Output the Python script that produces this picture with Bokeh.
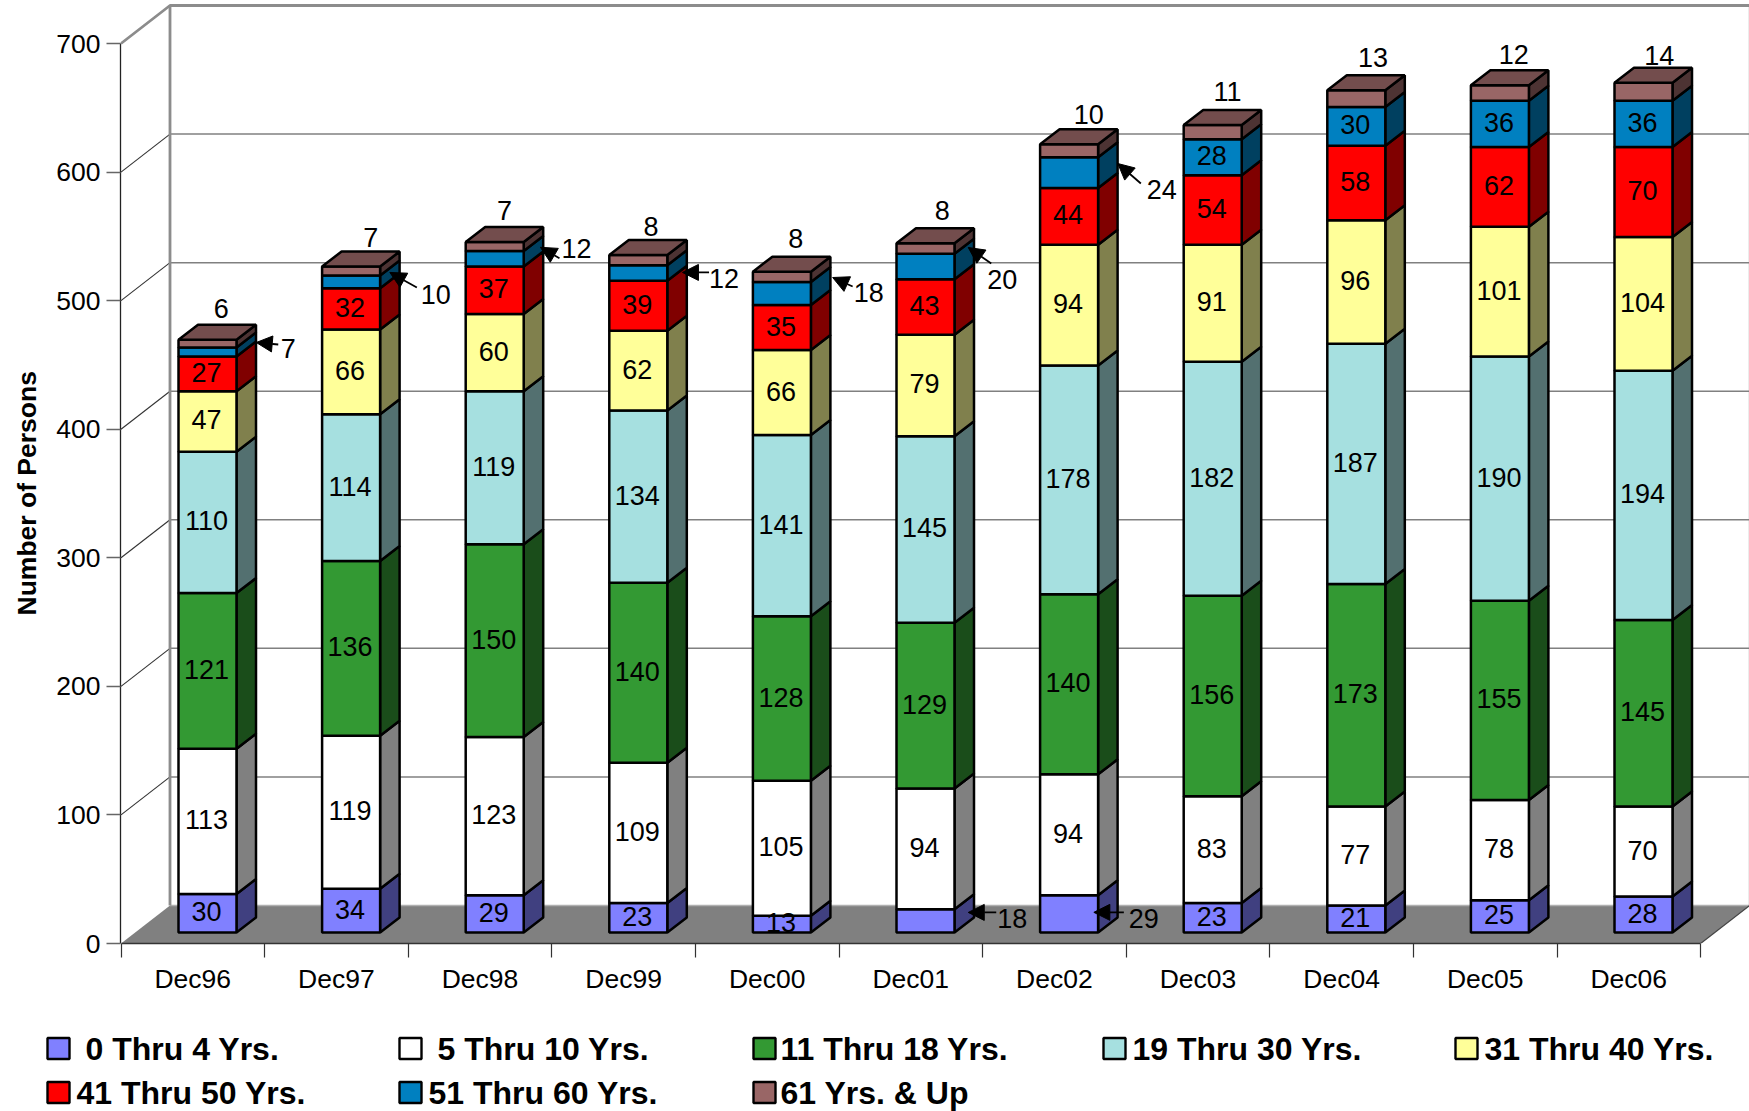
import numpy as np
from bokeh.plotting import figure
from bokeh.models import Range1d, FixedTicker, Arrow, NormalHead, ColumnDataSource, Column, Title
from bokeh.core.properties import value
from bokeh.embed import file_html
from bokeh.resources import INLINE

# ---------- data ----------
categories = ["Dec96", "Dec97", "Dec98", "Dec99", "Dec00", "Dec01", "Dec02", "Dec03", "Dec04", "Dec05", "Dec06"]
series_names = ["0 Thru 4 Yrs.", "5 Thru 10 Yrs.", "11 Thru 18 Yrs.", "19 Thru 30 Yrs.",
                "31 Thru 40 Yrs.", "41 Thru 50 Yrs.", "51 Thru 60 Yrs.", "61 Yrs. & Up"]
age_0_4 = [30, 34, 29, 23, 13, 18, 29, 23, 21, 25, 28]
age_5_10 = [113, 119, 123, 109, 105, 94, 94, 83, 77, 78, 70]
age_11_18 = [121, 136, 150, 140, 128, 129, 140, 156, 173, 155, 145]
age_19_30 = [110, 114, 119, 134, 141, 145, 178, 182, 187, 190, 194]
age_31_40 = [47, 66, 60, 62, 66, 79, 94, 91, 96, 101, 104]
age_41_50 = [27, 32, 37, 39, 35, 43, 44, 54, 58, 62, 70]
age_51_60 = [7, 10, 12, 12, 18, 20, 24, 28, 30, 36, 36]
age_61_up = [6, 7, 7, 8, 8, 8, 10, 11, 13, 12, 14]
y_ticks = [0, 100, 200, 300, 400, 500, 600, 700]

# ---------- styles ----------
front_colors = ["#8080FF", "#FFFFFF", "#339933", "#A6E0E0", "#FFFF99", "#FF0000", "#0080C0", "#996666"]
side_colors = ["#404080", "#808080", "#1A4D1A", "#537070", "#80804D", "#800000", "#004060", "#4D3333"]
top_color = "#734D4D"
FONT = "Liberation Sans"
LABEL_PX = "27px"

# geometry (pixels of the page)
X0, Y0 = 120.5, 943.0      # origin of the axes
SLOT = 143.6               # width of a category
PPU = 900 / 700            # pixels per person
WALL_DX, WALL_DY = 49.0, 38.0
BAR_LEFT, BAR_W = 57.5, 58.0
BAR_BASE = 11.0
BAR_DX, BAR_DY = 19.5, 15.0
FIG_W, FIG_H, BOTTOM = 1749, 1025, 82
LEFT = 120

xu = lambda px: px / SLOT
yu = lambda px: px / PPU

wall_dx, wall_dy = xu(WALL_DX), yu(WALL_DY)
bar_l, bar_w = xu(BAR_LEFT), xu(BAR_W)
base = yu(BAR_BASE)
bdx, bdy = xu(BAR_DX), yu(BAR_DY)

x_start = xu(LEFT - X0)
p = figure(width=FIG_W, height=FIG_H, output_backend="svg", toolbar_location=None,
           x_range=Range1d(x_start, x_start + xu(FIG_W - LEFT)),
           y_range=Range1d(0, yu(FIG_H - BOTTOM)),
           min_border_left=LEFT, min_border_right=0, min_border_top=0, min_border_bottom=BOTTOM,
           outline_line_color=None, background_fill_color="white", border_fill_color="white")
p.grid.visible = False

n_cat = len(categories)
top_val = y_ticks[-1]

# axes
xa = p.xaxis[0]
xa.ticker = FixedTicker(ticks=[i + 0.5 for i in range(n_cat)], minor_ticks=list(range(n_cat + 1)))
xa.major_label_overrides = {i + 0.5: c for i, c in enumerate(categories)}
xa.bounds = (0, n_cat)
xa.major_tick_out = 0
xa.major_tick_in = 0
xa.minor_tick_out = 14
xa.minor_tick_in = 0
xa.minor_tick_line_color = "#333333"
xa.minor_tick_line_width = 1.2
xa.axis_line_color = "#333333"
xa.axis_line_width = 1.5
xa.major_label_standoff = 6
xa.major_label_text_font = FONT
xa.major_label_text_font_size = "26.5px"
xa.major_label_text_color = "black"

ya = p.yaxis[0]
ya.ticker = FixedTicker(ticks=y_ticks)
ya.bounds = (0, top_val)
ya.major_tick_out = 14
ya.major_tick_in = 0
ya.minor_tick_line_color = None
ya.major_tick_line_color = "#666666"
ya.major_tick_line_width = 1.5
ya.axis_line_color = "#222222"
ya.axis_line_width = 1.3
ya.major_label_standoff = 6
ya.major_label_text_font = FONT
ya.major_label_text_font_size = "26.5px"
ya.major_label_text_color = "black"

# axis title, centred on the axis rather than on the taller frame
p.add_layout(Title(text="Number of Persons", align="left", offset=328, standoff=20, vertical_align="top",
                   text_font=FONT, text_font_size="26.5px", text_font_style="bold",
                   text_color="black"), "left")

# floor
p.patch([0, n_cat, n_cat + wall_dx, wall_dx], [0, 0, wall_dy, wall_dy],
        fill_color="#808080", line_color=None)
p.line([wall_dx, n_cat + wall_dx], [wall_dy, wall_dy], line_color="#B0B0B0", line_width=1.5)
p.line([n_cat, n_cat + wall_dx], [0, wall_dy], line_color="#444444", line_width=1.2)

# grid on side and back walls
grid_vals = np.array(y_ticks[1:-1], dtype=float)
p.segment(0, grid_vals, wall_dx, grid_vals + wall_dy, line_color="#333333", line_width=1.1)
p.segment(wall_dx, grid_vals + wall_dy, n_cat + wall_dx, grid_vals + wall_dy,
          line_color="#808080", line_width=1.5)
p.line([0, wall_dx, n_cat + wall_dx], [top_val, top_val + wall_dy, top_val + wall_dy],
       line_color="#8C8C8C", line_width=2.8)
p.line([wall_dx, wall_dx], [wall_dy, top_val + wall_dy], line_color="#8C8C8C", line_width=2.8)
p.line([n_cat + wall_dx, n_cat + wall_dx], [wall_dy, top_val + wall_dy], line_color="#808080", line_width=1.5)

# stacked 3-D bars
table = np.array([age_0_4, age_5_10, age_11_18, age_19_30, age_31_40, age_41_50, age_51_60, age_61_up], dtype=float)
cum = np.vstack([np.zeros(n_cat), np.cumsum(table, axis=0)])
lefts = np.arange(n_cat) + bar_l
rights = lefts + bar_w
EDGE = 2.5

for s in range(table.shape[0]):
    bottoms = base + cum[s]
    tops = base + cum[s + 1]
    xs = [[r, r + bdx, r + bdx, r] for r in rights]
    ys = [[b, b + bdy, t + bdy, t] for b, t in zip(bottoms, tops)]
    p.patches(xs, ys, fill_color=side_colors[s], line_color="black", line_width=EDGE)
    p.quad(left=lefts, right=rights, bottom=bottoms, top=tops,
           fill_color=front_colors[s], line_color="black", line_width=EDGE)

tops = base + cum[-1]
p.patches([[l, r, r + bdx, l + bdx] for l, r in zip(lefts, rights)],
          [[t, t, t + bdy, t + bdy] for t in tops],
          fill_color=top_color, line_color="black", line_width=EDGE)

# callouts: bar, series, tip offset, tail offset, text offset (pixels from the segment's side face)
callouts = [
    (0, 6, (10, -2), (32, 0), (42, 4)),
    (1, 6, (0, -2), (27, 13), (46, 20)),
    (2, 6, (7, -4), (26, 7), (43, -3)),
    (3, 6, (5.4, 7), (32, 7), (47, 13)),
    (4, 6, (12, -8.5), (32, 0.5), (48, 6.5)),
    (5, 6, (4, -11.5), (27, 4.5), (38, 20.5)),
    (6, 6, (10, -1.6), (33, 18.4), (54, 24.4)),
    (5, 0, (4, -1), (32, -1), (48, 5)),
    (6, 0, (-14, 6), (16, 6), (36, 12)),
]
called = {(c[0], c[1]) for c in callouts}

# inside labels
lx, ly, lt = [], [], []
for s in range(table.shape[0] - 1):
    for i in range(n_cat):
        if (i, s) in called:
            continue
        lx.append(lefts[i] + bar_w / 2 - xu(1))
        ly.append(base + cum[s, i] + table[s, i] / 2 + yu(1.5))
        lt.append(str(int(table[s, i])))
p.text(lx, ly, text=lt, text_align="center", text_baseline="middle",
       text_font=value(FONT), text_font_size=value(LABEL_PX), text_color="black")

# labels above the bars (top series)
top_dx = [4, 10, 0, 3, 4, 7, 10, 5, 7, 4, 6]
top_dy = [-16, -14.5, -17, -13, -18.5, -18, -15, -19, -18, -16, -12]
tsrc = ColumnDataSource(dict(
    x=lefts + (bar_w + bdx) / 2, y=tops + bdy,
    t=[str(int(v)) for v in table[-1]],
    xo=np.array(top_dx, dtype=float), yo=np.array(top_dy, dtype=float)))
p.text("x", "y", text="t", x_offset="xo", y_offset="yo", source=tsrc, text_align="center",
       text_baseline="middle", text_font=value(FONT), text_font_size=value(LABEL_PX), text_color="black")

# arrows and their labels
cx, cy, ct = [], [], []
for i, s, tip, tail, txt in callouts:
    ax = rights[i] + bdx / 2
    ay = base + cum[s, i] + table[s, i] / 2 + bdy / 2
    p.add_layout(Arrow(end=NormalHead(size=16, fill_color="black", line_color="black", line_width=1),
                       x_start=ax + xu(tail[0]), y_start=ay - yu(tail[1]),
                       x_end=ax + xu(tip[0]), y_end=ay - yu(tip[1]),
                       line_color="black", line_width=1.8))
    cx.append(ax + xu(txt[0]))
    cy.append(ay - yu(txt[1]))
    ct.append(str(int(table[s, i])))
p.text(cx, cy, text=ct, text_align="center", text_baseline="middle",
       text_font=value(FONT), text_font_size=value(LABEL_PX), text_color="black")

# legend (own panel under the chart)
leg = figure(width=FIG_W, height=1111 - FIG_H, output_backend="svg", toolbar_location=None,
             x_range=Range1d(0, FIG_W), y_range=Range1d(1111, FIG_H),
             x_axis_location=None, y_axis_location=None,
             min_border=0, outline_line_color=None)
leg.grid.visible = False
swatch_x = [47, 399, 753, 1103, 1455, 47, 399, 753]
text_x = [85, 437, 780, 1132, 1484, 76, 428, 780]
row_y = [1048, 1048, 1048, 1048, 1048, 1092, 1092, 1092]
sw = np.array(swatch_x, dtype=float)
ry = np.array(row_y, dtype=float)
leg.quad(left=sw, right=sw + 22, top=ry - 10.5, bottom=ry + 10.5,
         fill_color=front_colors, line_color="black", line_width=2.4)
leg.text(text_x, ry, text=series_names, text_align="left", text_baseline="middle",
         text_font=value(FONT), text_font_size=value("32px"), text_font_style="bold", text_color="black")

page = Column(children=[Column(children=[p]), Column(children=[leg])], spacing=0)
open("out.html", "w").write(file_html(page, INLINE))
